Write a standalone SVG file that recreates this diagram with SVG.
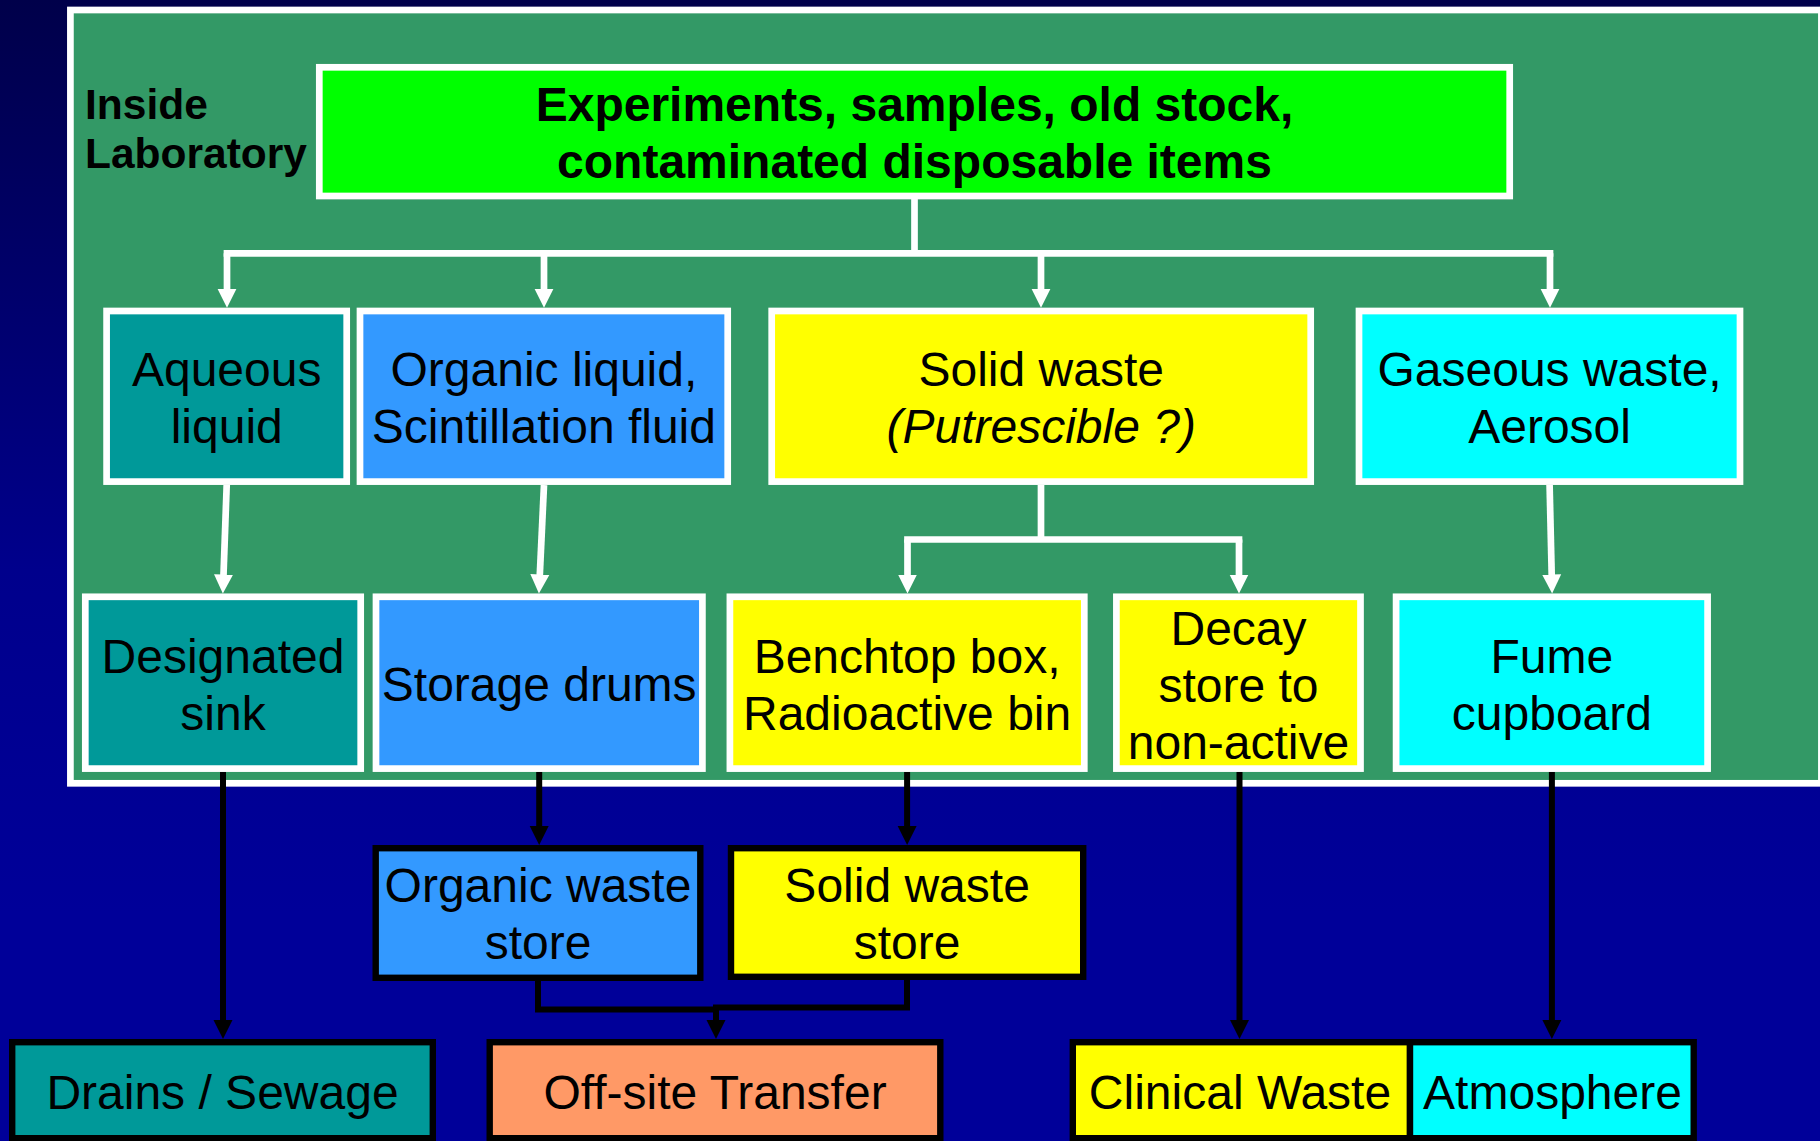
<svg xmlns="http://www.w3.org/2000/svg" width="1820" height="1141" viewBox="0 0 1820 1141">
<defs>
<linearGradient id="bg" x1="0" y1="0" x2="0" y2="1">
<stop offset="0" stop-color="#00004a"/>
<stop offset="0.5" stop-color="#00008c"/>
<stop offset="0.8" stop-color="#000099"/>
<stop offset="1" stop-color="#000099"/>
</linearGradient>
<marker id="aw" markerUnits="userSpaceOnUse" markerWidth="20" markerHeight="20" refX="9" refY="9.5" orient="auto" viewBox="0 0 20 19">
<path d="M0,0 L19,9.5 L0,19 z" fill="#ffffff"/>
</marker>
<marker id="ab" markerUnits="userSpaceOnUse" markerWidth="20" markerHeight="20" refX="9" refY="9.5" orient="auto" viewBox="0 0 20 19">
<path d="M0,0 L19,9.5 L0,19 z" fill="#000000"/>
</marker>
<style>
.lab{stroke:#ffffff;stroke-width:6.7}
.out{stroke:#000000;stroke-width:6.4}
.t{font-family:"Liberation Sans",Arial,Helvetica,sans-serif;font-size:48px;fill:#000000;text-anchor:middle}
.b{font-weight:bold}
.i{font-style:italic}
.teal{fill:#009999}
.blue{fill:#3399ff}
.yel{fill:#ffff00}
.cyan{fill:#00ffff}
.wl{fill:none;stroke:#ffffff;stroke-width:6.7}
.bl{fill:none;stroke:#000000;stroke-width:6}
</style>
</defs>
<rect x="0" y="0" width="1820" height="1141" fill="url(#bg)"/>
<rect id="lab-panel" x="70.4" y="10" width="1751" height="773.3" fill="#339966" stroke="#ffffff" stroke-width="6.7"/>
<text x="85" y="119" class="t b" style="font-size:42.5px;text-anchor:start">Inside</text>
<text x="85" y="168.3" class="t b" style="font-size:42.5px;text-anchor:start">Laboratory</text>

<g id="connectors">
<path class="wl" d="M914.5,199 V253.3"/>
<path class="wl" d="M227,253.3 H1550" stroke-linecap="square"/>
<path class="wl" d="M227,253.3 V297.7" marker-end="url(#aw)"/>
<path class="wl" d="M544,253.3 V297.7" marker-end="url(#aw)"/>
<path class="wl" d="M1041,253.3 V297.7" marker-end="url(#aw)"/>
<path class="wl" d="M1550,253.3 V297.7" marker-end="url(#aw)"/>
<path class="wl" d="M226.7,485 L223.2,583.5" marker-end="url(#aw)"/>
<path class="wl" d="M544,485 L539.4,583.5" marker-end="url(#aw)"/>
<path class="wl" d="M1041,485 V539.5"/>
<path class="wl" d="M907.5,539.5 H1239" stroke-linecap="square"/>
<path class="wl" d="M907.5,539.5 V583.5" marker-end="url(#aw)"/>
<path class="wl" d="M1239,539.5 V583.5" marker-end="url(#aw)"/>
<path class="wl" d="M1549.6,485 L1551.9,583.5" marker-end="url(#aw)"/>
<path class="bl" d="M223,772 V1029" marker-end="url(#ab)"/>
<path class="bl" d="M539.2,772 V835" marker-end="url(#ab)"/>
<path class="bl" d="M907.1,772 V835" marker-end="url(#ab)"/>
<path class="bl" d="M1239.5,772 V1029" marker-end="url(#ab)"/>
<path class="bl" d="M1551.9,772 V1029" marker-end="url(#ab)"/>
<path class="bl" d="M538,981 V1009.5 H716"/>
<path class="bl" d="M907,980 V1007.5 H713"/>
<path class="bl" d="M716,1007 V1029" marker-end="url(#ab)"/>
</g>

<g id="n-source">
<rect x="319.3" y="67.3" width="1190.4" height="128.7" fill="#00ff00" class="lab"/>
<text x="914.5" y="121" class="t b">Experiments, samples, old stock,</text>
<text x="914.5" y="178" class="t b">contaminated disposable items</text>
</g>

<g id="n-aqueous">
<rect x="106.6" y="311" width="240.1" height="170.6" class="teal lab"/>
<text x="226.7" y="386" class="t">Aqueous</text>
<text x="226.7" y="443" class="t">liquid</text>
</g>
<g id="n-organic">
<rect x="360" y="311" width="367.7" height="170.6" class="blue lab"/>
<text x="543.9" y="386" class="t">Organic liquid,</text>
<text x="543.9" y="443" class="t">Scintillation fluid</text>
</g>
<g id="n-solid">
<rect x="771.7" y="311" width="539" height="170.6" class="yel lab"/>
<text x="1041.2" y="386" class="t">Solid waste</text>
<text x="1041.2" y="443" class="t i">(Putrescible ?)</text>
</g>
<g id="n-gaseous">
<rect x="1359" y="311" width="381" height="170.6" class="cyan lab"/>
<text x="1549.6" y="386" class="t">Gaseous waste,</text>
<text x="1549.6" y="443" class="t">Aerosol</text>
</g>

<g id="n-sink">
<rect x="85.3" y="596.8" width="275.4" height="171.8" class="teal lab"/>
<text x="223" y="673" class="t">Designated</text>
<text x="223" y="730" class="t">sink</text>
</g>
<g id="n-drums">
<rect x="376" y="596.8" width="326.4" height="171.8" class="blue lab"/>
<text x="539.2" y="701" class="t">Storage drums</text>
</g>
<g id="n-benchtop">
<rect x="729.9" y="596.8" width="354.4" height="171.8" class="yel lab"/>
<text x="907.1" y="673" class="t">Benchtop box,</text>
<text x="907.1" y="730" class="t">Radioactive bin</text>
</g>
<g id="n-decay">
<rect x="1116.4" y="596.8" width="244.1" height="171.8" class="yel lab"/>
<text x="1238.5" y="645" class="t">Decay</text>
<text x="1238.5" y="702" class="t">store to</text>
<text x="1238.5" y="759" class="t">non-active</text>
</g>
<g id="n-fume">
<rect x="1396.1" y="596.8" width="311.5" height="171.8" class="cyan lab"/>
<text x="1551.9" y="673" class="t">Fume</text>
<text x="1551.9" y="730" class="t">cupboard</text>
</g>

<g id="n-orgstore">
<rect x="375.7" y="848.2" width="324.6" height="129.6" class="blue out"/>
<text x="538" y="902" class="t">Organic waste</text>
<text x="538" y="959" class="t">store</text>
</g>
<g id="n-solidstore">
<rect x="731" y="848.2" width="352.2" height="128.6" class="yel out"/>
<text x="907.1" y="902" class="t">Solid waste</text>
<text x="907.1" y="959" class="t">store</text>
</g>

<g id="n-drains">
<rect x="12.2" y="1042.2" width="420.6" height="96" class="teal out"/>
<text x="222.5" y="1109" class="t">Drains / Sewage</text>
</g>
<g id="n-offsite">
<rect x="489.7" y="1042.2" width="450.6" height="96" fill="#ff9966" class="out"/>
<text x="715" y="1109" class="t">Off-site Transfer</text>
</g>
<g id="n-clinical">
<rect x="1072.8" y="1042.2" width="337.2" height="96" class="yel out"/>
<text x="1240" y="1109" class="t">Clinical Waste</text>
</g>
<g id="n-atmosphere">
<rect x="1410" y="1042.2" width="283.7" height="96" class="cyan out"/>
<text x="1552.5" y="1109" class="t">Atmosphere</text>
</g>
</svg>
